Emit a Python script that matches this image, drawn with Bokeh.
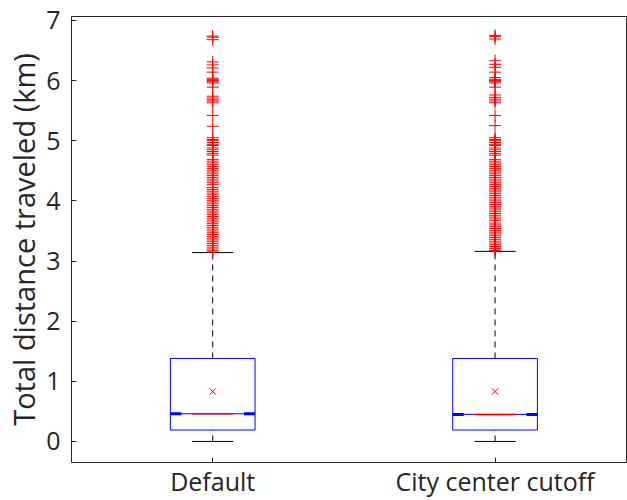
from bokeh.plotting import figure
from bokeh.models import FixedTicker, Range1d
from bokeh.embed import file_html
from bokeh.resources import INLINE

categories = ["Default", "City center cutoff"]
positions = [1, 2]
q1 = [0.19, 0.19]
median = [0.46, 0.45]
q3 = [1.38, 1.38]
lower_whisker = [0.0, 0.0]
upper_whisker = [3.14, 3.16]
mean = [0.83, 0.83]

outliers_default = [6.74, 6.72, 6.68, 6.31, 6.26, 6.21, 6.14, 6.04, 6.02, 6.00, 5.98, 5.96,
                    5.89, 5.74, 5.71, 5.68, 5.66, 5.63, 5.42, 5.24, 5.05, 5.02, 5.00, 4.97,
                    4.94, 4.92, 4.88, 4.85, 4.82, 4.79, 4.76, 4.69, 4.66, 4.63, 4.60, 4.57,
                    4.54, 4.51, 4.48, 4.45, 4.42, 4.39, 4.36, 4.33, 4.30, 4.27, 4.22, 4.19,
                    4.16, 4.13, 4.10, 4.07, 4.04, 4.01, 3.98, 3.95, 3.92, 3.89, 3.86, 3.83,
                    3.80, 3.77, 3.74, 3.71, 3.68, 3.65, 3.62, 3.59, 3.56, 3.53, 3.50, 3.47,
                    3.44, 3.41, 3.38, 3.35, 3.32, 3.29, 3.26, 3.23, 3.20, 3.17, 3.15]
outliers_city = [6.75, 6.73, 6.69, 6.33, 6.27, 6.22, 6.14, 6.05, 6.02, 6.00, 5.98, 5.96,
                 5.89, 5.76, 5.72, 5.69, 5.66, 5.63, 5.42, 5.25, 5.05, 5.02, 5.00, 4.97,
                 4.94, 4.92, 4.88, 4.85, 4.82, 4.79, 4.76, 4.69, 4.66, 4.63, 4.60, 4.57,
                 4.54, 4.51, 4.48, 4.45, 4.42, 4.39, 4.36, 4.33, 4.30, 4.27, 4.24, 4.21,
                 4.18, 4.15, 4.12, 4.09, 4.06, 4.03, 4.00, 3.97, 3.94, 3.91, 3.88, 3.85,
                 3.82, 3.79, 3.76, 3.73, 3.70, 3.67, 3.63, 3.60, 3.57, 3.54, 3.51, 3.48,
                 3.45, 3.42, 3.39, 3.36, 3.33, 3.30, 3.27, 3.24, 3.21, 3.18, 3.17]

y_ticks = [0, 1, 2, 3, 4, 5, 6, 7]
y_label = "Total distance traveled (km)"

FONT = "Open Sans"
AX = "#262626"
BOX_HALF = 0.15
CAP_HALF = 0.073
THICK = 0.039

p = figure(width=627, height=500, output_backend="svg", toolbar_location=None,
           x_range=Range1d(0.5, 2.469), y_range=Range1d(-0.35, 7.065),
           min_border_left=71, min_border_right=0, min_border_top=16, min_border_bottom=37)
p.grid.visible = False
p.background_fill_color = "white"
p.border_fill_color = "white"
p.outline_line_color = AX
p.outline_line_width = 1
p.outline_line_alpha = 1

xs = positions
# whiskers
p.segment(x0=xs, y0=q3, x1=xs, y1=upper_whisker, line_color="black", line_dash="6 5", line_width=1)
p.segment(x0=xs, y0=lower_whisker, x1=xs, y1=q1, line_color="black", line_dash="6 5", line_width=1)
# caps
p.segment(x0=[x - CAP_HALF for x in xs], y0=upper_whisker, x1=[x + CAP_HALF for x in xs], y1=upper_whisker,
          line_color="black", line_width=1)
p.segment(x0=[x - CAP_HALF for x in xs], y0=lower_whisker, x1=[x + CAP_HALF for x in xs], y1=lower_whisker,
          line_color="black", line_width=1)
# outliers
ox = [1] * len(outliers_default) + [2] * len(outliers_city)
oy = outliers_default + outliers_city
p.scatter(x=ox, y=oy, marker="cross", size=12, line_color="red", line_width=1)
# boxes
p.quad(left=[x - BOX_HALF for x in xs], right=[x + BOX_HALF for x in xs], bottom=q1, top=q3,
       fill_color=None, line_color="#0000FF", line_width=1)
# median
p.segment(x0=[x - BOX_HALF for x in xs], y0=median, x1=[x + BOX_HALF for x in xs], y1=median,
          line_color="#0000FF", line_width=1)
p.segment(x0=[x - BOX_HALF for x in xs], y0=median, x1=[x - BOX_HALF + THICK for x in xs], y1=median,
          line_color="#0000FF", line_width=3)
p.segment(x0=[x + BOX_HALF - THICK for x in xs], y0=median, x1=[x + BOX_HALF for x in xs], y1=median,
          line_color="#0000FF", line_width=3)
p.segment(x0=[x - CAP_HALF for x in xs], y0=median, x1=[x + CAP_HALF for x in xs], y1=median,
          line_color="#FF0000", line_width=1.5)
# mean
p.scatter(x=xs, y=mean, marker="x", size=9, line_color="#FF0000", line_width=1)

# axes
p.yaxis.ticker = FixedTicker(ticks=y_ticks)
p.yaxis.minor_tick_line_color = None
p.yaxis.major_tick_in = 5
p.yaxis.major_tick_out = 0
p.yaxis.axis_line_color = None
p.yaxis.major_tick_line_color = AX
p.yaxis.major_label_text_font = FONT
p.yaxis.major_label_text_font_size = "25px"
p.yaxis.major_label_text_color = AX
p.yaxis.major_label_standoff = 11
p.yaxis.axis_label = y_label
p.yaxis.axis_label_text_font = FONT
p.yaxis.axis_label_text_font_size = "29px"
p.yaxis.axis_label_text_font_style = "normal"
p.yaxis.axis_label_text_color = AX
p.yaxis.axis_label_standoff = 0

p.xaxis.ticker = FixedTicker(ticks=positions)
p.xaxis.major_label_overrides = {pos: lab for pos, lab in zip(positions, categories)}
p.xaxis.minor_tick_line_color = None
p.xaxis.major_tick_in = 5
p.xaxis.major_tick_out = 0
p.xaxis.axis_line_color = None
p.xaxis.major_tick_line_color = AX
p.xaxis.major_label_text_font = FONT
p.xaxis.major_label_text_font_size = "25px"
p.xaxis.major_label_text_color = AX
p.xaxis.major_label_standoff = 1

open("out.html", "w").write(file_html(p, INLINE))
